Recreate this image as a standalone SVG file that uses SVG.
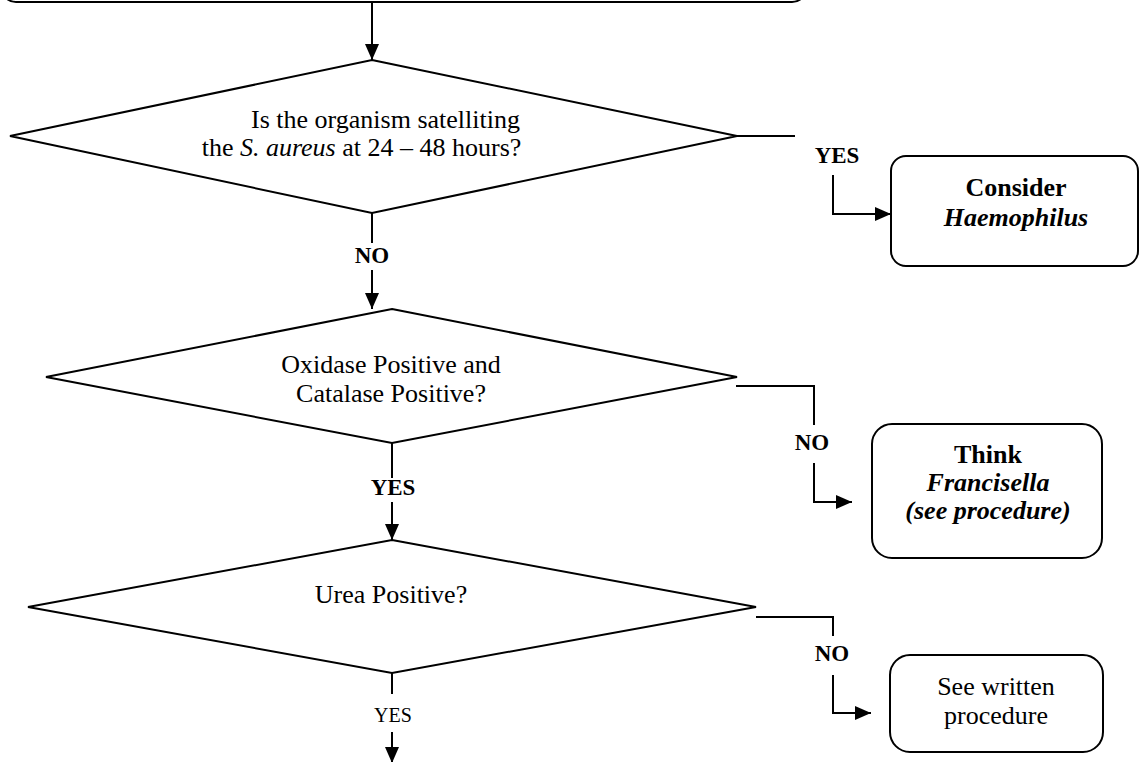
<svg xmlns="http://www.w3.org/2000/svg" width="1139" height="762" viewBox="0 0 1139 762">
<style>
.shape{fill:#fff;stroke:#000;stroke-width:2}
.conn{fill:none;stroke:#000;stroke-width:2}
text{font-family:"Liberation Serif","Times New Roman",serif;fill:#000;text-anchor:middle}
.t{font-size:26px}
.lbl{font-size:23px;font-weight:bold}
.lblr{font-size:20px}
.b{font-weight:bold}
.i{font-style:italic}
</style>
<defs>
<marker id="ah" markerUnits="userSpaceOnUse" markerWidth="16" markerHeight="14" refX="16" refY="7" orient="auto">
<path d="M0,0 L16,7 L0,14 z" fill="#000"/>
</marker>
</defs>
<rect width="1139" height="762" fill="#fff"/>
<g id="start"><rect class="shape" x="1" y="-60" width="806" height="62" rx="15"/></g>
<g id="d1">
<polygon class="shape" points="372,60 737,136 372,213 10,136"/>
<text class="t" x="385.5" y="128">Is the organism satelliting</text>
<text class="t" x="361.5" y="156">the <tspan class="i">S. aureus</tspan> at 24 – 48 hours?</text>
</g>
<g id="box1">
<rect class="shape" x="891" y="156" width="247" height="110" rx="15"/>
<text class="t b" x="1016" y="196">Consider</text>
<text class="t b i" x="1016" y="226">Haemophilus</text>
</g>
<g id="d2">
<polygon class="shape" points="392,309 737,377 392,443 46,377"/>
<text class="t" x="391" y="373">Oxidase Positive and</text>
<text class="t" x="391" y="402">Catalase Positive?</text>
</g>
<g id="box2">
<rect class="shape" x="872" y="424" width="230" height="134" rx="20"/>
<text class="t b" x="988" y="463">Think</text>
<text class="t b i" x="988" y="491">Francisella</text>
<text class="t b i" x="988" y="519">(see procedure)</text>
</g>
<g id="d3">
<polygon class="shape" points="392,540 756,607 392,673 28,607"/>
<text class="t" x="391" y="603">Urea Positive?</text>
</g>
<g id="box3">
<rect class="shape" x="890" y="655" width="213" height="97" rx="20"/>
<text class="t" x="996" y="695">See written</text>
<text class="t" x="996" y="724">procedure</text>
</g>
<g id="connectors">
<path class="conn" d="M372,2 V60" marker-end="url(#ah)"/>
<path class="conn" d="M737,136 H795"/>
<path class="conn" d="M833,175 V214 H891" marker-end="url(#ah)"/>
<path class="conn" d="M372,213 V243"/>
<path class="conn" d="M372,270 V309" marker-end="url(#ah)"/>
<path class="conn" d="M736,386 H814 V425"/>
<path class="conn" d="M814,463 V502 H852" marker-end="url(#ah)"/>
<path class="conn" d="M392,443 V478"/>
<path class="conn" d="M392,502 V540" marker-end="url(#ah)"/>
<path class="conn" d="M756,617 H833 V636"/>
<path class="conn" d="M833,675 V713 H871" marker-end="url(#ah)"/>
<path class="conn" d="M392,673 V694"/>
<path class="conn" d="M392,732 V763" marker-end="url(#ah)"/>
<text class="lbl" x="837" y="163">YES</text>
<text class="lbl" x="372" y="263">NO</text>
<text class="lbl" x="812" y="450">NO</text>
<text class="lbl" x="393" y="495">YES</text>
<text class="lbl" x="832" y="661">NO</text>
<text class="lblr" x="393" y="722">YES</text>
</g>
</svg>
